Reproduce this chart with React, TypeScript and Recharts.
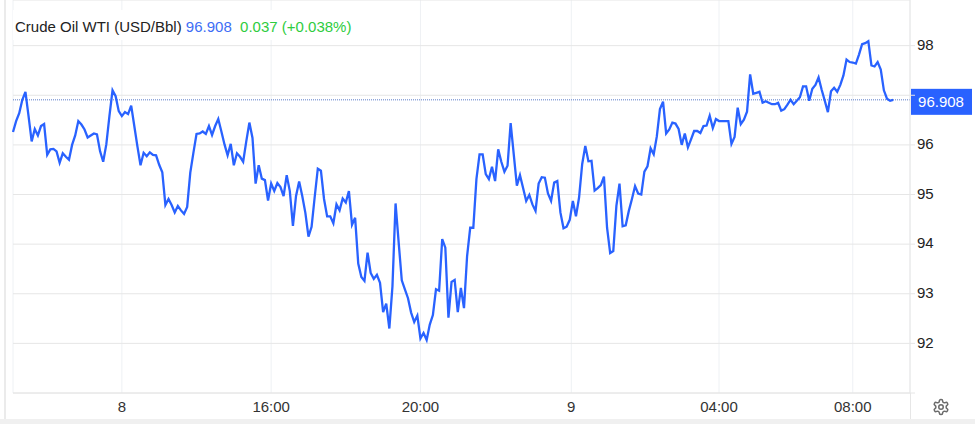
import { LineChart, Line, XAxis, YAxis, CartesianGrid, ReferenceLine } from "recharts";

// prices, oldest first, one array per stretch of the session
const firstStretch = [
  96.26, 96.48, 96.64, 96.91, 97.07, 96.58, 96.07, 96.32, 96.19, 96.38, 96.42, 95.8,
  95.91, 95.92, 95.87, 95.64, 95.83, 95.76, 95.7, 96.0, 96.19, 96.48, 96.41, 96.31,
  96.15, 96.19, 96.23, 96.21, 95.87, 95.66, 96.01, 96.58, 97.1, 96.98, 96.68, 96.58,
  96.66, 96.62, 96.79, 96.38, 95.97, 95.59, 95.84, 95.77, 95.85, 95.8, 95.79, 95.6,
  95.45, 94.79, 94.91, 94.79, 94.64, 94.77, 94.68, 94.61, 94.75, 95.44, 95.84, 96.22,
  96.23, 96.27, 96.22, 96.38, 96.2, 96.38, 96.52, 96.27, 96.01, 95.79, 96.02, 95.59,
  95.83, 95.76, 95.66, 96.07, 96.45, 96.14, 95.22, 95.59, 95.32, 95.29, 94.88, 95.22,
  95.07, 95.23, 95.15, 94.97, 95.39, 95.07, 94.37, 94.97, 95.26, 94.97, 94.63, 94.15,
  94.35, 94.95, 95.52,
];
const secondStretch = [
  95.48, 94.91, 94.56, 94.56, 94.42, 94.8, 94.68, 94.92, 94.84, 95.07, 94.39, 94.53,
  93.61, 93.34, 93.26, 93.83, 93.42, 93.3, 93.38, 93.22, 92.63, 92.8, 92.3, 93.15,
  94.82, 94.03, 93.27, 93.09, 92.91, 92.62, 92.43, 92.56, 92.1, 92.21, 92.07, 92.38,
  92.57, 93.09, 93.06, 94.1, 93.93, 92.52, 93.24, 93.28, 92.63, 93.12, 92.71, 93.76,
  94.33, 94.33, 95.31, 95.81, 95.81, 95.41, 95.31, 95.56, 95.27, 95.91, 95.66, 95.46,
  95.58, 96.44, 95.81, 95.18, 95.39, 95.13, 94.87, 94.99, 94.8, 94.67, 95.22, 95.35,
  95.34, 95.02, 94.87, 95.24, 95.27, 94.64, 94.32, 94.35, 94.49, 94.87, 94.56, 94.94,
  95.61, 95.98, 95.67, 95.68, 95.08, 95.13, 95.19, 95.36, 94.33, 93.82, 93.86, 94.77,
  95.22, 94.36, 94.38, 94.67, 94.91, 95.17, 95.02,
];
const thirdStretch = [
  95.0, 95.46, 95.57, 95.93, 95.81, 96.17, 96.72, 96.87, 96.23, 96.31, 96.45, 96.43,
  96.32, 96.0, 96.23, 95.95, 96.11, 96.28, 96.28, 96.24, 96.38, 96.39, 96.59, 96.34,
  96.52, 96.48, 96.48, 96.48, 96.48, 96.02, 96.16, 96.75, 96.42, 96.51, 96.67, 97.42,
  97.03, 97.05, 97.07, 96.85, 96.88, 96.85, 96.82, 96.82, 96.85, 96.69, 96.72, 96.81,
  96.91, 96.82, 96.89, 96.96, 97.18, 97.18, 96.89, 97.13, 97.21, 97.36, 97.11, 96.89,
  96.66, 97.08, 97.15, 97.07, 97.21, 97.4, 97.72, 97.67, 97.66, 97.64, 97.82, 98.03,
  98.05, 98.09, 97.6, 97.58, 97.67, 97.52, 97.1, 96.93, 96.89, 96.908,
];

const prices = [...firstStretch, ...secondStretch, ...thirdStretch];
const data = prices.map((price, i) => ({ i, price }));

const timeTicks = [35, 83, 131, 179.5, 227, 270];
const timeLabels = ["8", "16:00", "20:00", "9", "04:00", "08:00"];
const priceTicks = [91, 92, 93, 94, 95, 96, 97, 98];
// 91 is only the bottom rule and 97 sits under the price tag
const unlabelledPrices = [91, 97];

const lastPrice = 96.908;
const blue = "#2962ff";
const gridColor = "#e6e6e6";
const font = "Arial, 'Liberation Sans', sans-serif";

function PriceTag({ viewBox }: any) {
  if (!viewBox) return null;
  const x = viewBox.x + viewBox.width;
  const y = viewBox.y;
  return (
    <g>
      <rect x={x + 1} y={y - 11} width={61} height={26} fill={blue} />
      <text x={x + 31} y={y + 7.5} textAnchor="middle" fontSize={15} fontFamily={font} fill="#fff">
        {lastPrice.toFixed(3)}
      </text>
    </g>
  );
}

function Gear() {
  return (
    <svg
      width={18}
      height={18}
      viewBox="0 0 24 24"
      fill="none"
      stroke="#6b6b6b"
      strokeWidth={2}
      style={{ position: "absolute", left: 932, top: 398 }}
    >
      <path d="M12.22 2h-.44a2 2 0 0 0-2 2v.18a2 2 0 0 1-1 1.73l-.43.25a2 2 0 0 1-2 0l-.15-.08a2 2 0 0 0-2.73.73l-.22.38a2 2 0 0 0 .73 2.73l.15.1a2 2 0 0 1 1 1.72v.51a2 2 0 0 1-1 1.74l-.15.09a2 2 0 0 0-.73 2.73l.22.38a2 2 0 0 0 2.73.73l.15-.08a2 2 0 0 1 2 0l.43.25a2 2 0 0 1 1 1.73V20a2 2 0 0 0 2 2h.44a2 2 0 0 0 2-2v-.18a2 2 0 0 1 1-1.73l.43-.25a2 2 0 0 1 2 0l.15.08a2 2 0 0 0 2.73-.73l.22-.39a2 2 0 0 0-.73-2.73l-.15-.08a2 2 0 0 1-1-1.74v-.5a2 2 0 0 1 1-1.74l.15-.09a2 2 0 0 0 .73-2.73l-.22-.38a2 2 0 0 0-2.73-.73l-.15.08a2 2 0 0 1-2 0l-.43-.25a2 2 0 0 1-1-1.73V4a2 2 0 0 0-2-2z" />
      <circle cx={12} cy={12} r={3} />
    </svg>
  );
}

export default function App() {
  return (
    <div style={{ position: "absolute", left: 0, top: 0, width: 975, height: 424, background: "#fff", overflow: "hidden", fontFamily: font }}>
      <LineChart width={975} height={424} data={data} margin={{ top: 0, right: 0, bottom: 0, left: 13 }}>
        <CartesianGrid stroke="#eef1f4" horizontal={false} />
        <CartesianGrid stroke={gridColor} vertical={false} />
        <XAxis
          type="number"
          dataKey="i"
          domain={[0, 288.4]}
          ticks={timeTicks}
          tickFormatter={(t: number) => timeLabels[timeTicks.indexOf(t)]}
          height={31}
          axisLine={{ stroke: gridColor }}
          tickLine={false}
          tick={{ fontSize: 15, fill: "#333", fontFamily: font }}
          tickMargin={2}
          interval={0}
        />
        <YAxis
          orientation="right"
          width={65}
          domain={[91, 98.92]}
          ticks={priceTicks}
          tickFormatter={(v: number) => (unlabelledPrices.includes(v) ? "" : String(v))}
          axisLine={{ stroke: gridColor }}
          tickLine={{ stroke: gridColor }}
          tickSize={5}
          tick={{ fontSize: 15, fill: "#222", fontFamily: font, dy: -1 }}
          tickMargin={2}
          interval={0}
        />
        <ReferenceLine y={lastPrice} stroke="#5a7bc8" strokeDasharray="1 1" label={<PriceTag />} />
        <Line type="linear" dataKey="price" stroke={blue} strokeWidth={2.3} dot={false} isAnimationActive={false} />
      </LineChart>

      {/* frame pieces outside the plot */}
      <div style={{ position: "absolute", left: 4, top: 0, width: 2, height: 424, background: "#ebebeb" }} />
      <div style={{ position: "absolute", left: 910, top: 393, width: 1, height: 26, background: gridColor }} />
      <div style={{ position: "absolute", left: 0, top: 419, width: 975, height: 5, background: "#f0f0f0" }} />
      <Gear />

      <div
        style={{
          position: "absolute",
          left: 13,
          top: 10,
          width: 342,
          height: 30,
          background: "#fff",
          fontSize: 15,
          lineHeight: "34px",
          whiteSpace: "pre",
          paddingLeft: 2,
          boxSizing: "border-box",
          color: "#222",
        }}
      >
        Crude Oil WTI (USD/Bbl) <span style={{ color: "#3d6ef5" }}>96.908</span>
        {"  "}
        <span style={{ color: "#2ecc40" }}>0.037 (+0.038%)</span>
      </div>
    </div>
  );
}
